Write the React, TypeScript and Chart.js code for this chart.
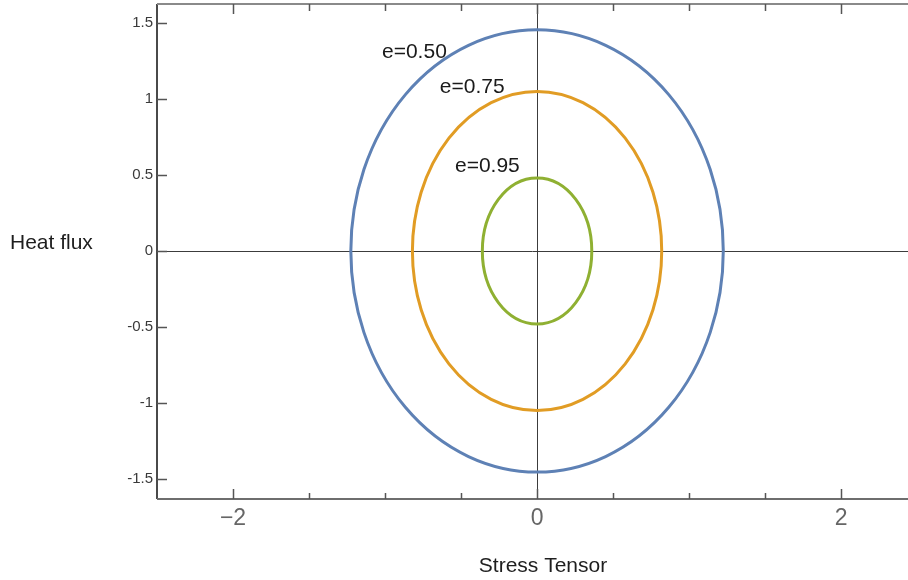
import { useEffect, useRef } from 'react';
import { Chart, registerables } from 'chart.js';

Chart.register(...registerables);

// Curves: semi-axes of each closed orbit (stress tensor, heat flux)
const seriesLabels = ['e=0.50', 'e=0.75', 'e=0.95'];
const seriesColors = ['#5E81B5', '#E19C24', '#8FB032'];
const semiAxisStress = [1.225, 0.82, 0.36];
const semiAxisHeat = [1.455, 1.05, 0.48];

// Where each curve's label sits (data coordinates, left/middle of the text)
const labelStress = [-1.02, -0.64, -0.54];
const labelHeat = [1.31, 1.08, 0.56];

// Axis ticks
const xMajorTicks = [-2, 0, 2];
const xMinorTicks = [-1.5, -1, -0.5, 0.5, 1, 1.5];
const yTicks = [-1.5, -1, -0.5, 0, 0.5, 1, 1.5];

const xTitle = 'Stress Tensor';
const yTitle = 'Heat flux';

const FONT = '"Liberation Sans", Arial, sans-serif';

const framePlugin = {
  id: 'frameAndAxes',
  beforeDatasetsDraw(chart: any) {
    const { ctx, chartArea: a, scales } = chart;
    const xs = scales.x;
    const ys = scales.y;
    ctx.save();

    // origin cross-hair
    const x0 = Math.round(xs.getPixelForValue(0)) + 0.5;
    const y0 = Math.round(ys.getPixelForValue(0)) + 0.5;
    ctx.lineWidth = 1;
    ctx.strokeStyle = '#3c3c3c';
    ctx.beginPath();
    ctx.moveTo(x0, a.top);
    ctx.lineTo(x0, a.bottom);
    ctx.moveTo(a.left, y0);
    ctx.lineTo(a.right, y0);
    ctx.stroke();

    // frame: left, top, bottom
    ctx.lineWidth = 2;
    ctx.strokeStyle = '#4a4a4a';
    ctx.beginPath();
    ctx.moveTo(a.left, a.top);
    ctx.lineTo(a.left, a.bottom);
    ctx.stroke();
    ctx.strokeStyle = '#8a8a8a';
    ctx.beginPath();
    ctx.moveTo(a.left, a.top);
    ctx.lineTo(a.right, a.top);
    ctx.stroke();
    ctx.strokeStyle = '#6e6e6e';
    ctx.beginPath();
    ctx.moveTo(a.left, a.bottom);
    ctx.lineTo(a.right, a.bottom);
    ctx.stroke();

    // inward tick marks
    ctx.lineWidth = 1.5;
    ctx.strokeStyle = '#555';
    ctx.beginPath();
    for (const v of xMajorTicks) {
      const px = Math.round(xs.getPixelForValue(v)) + 0.5;
      ctx.moveTo(px, a.bottom);
      ctx.lineTo(px, a.bottom - 10);
      ctx.moveTo(px, a.top);
      ctx.lineTo(px, a.top + 10);
    }
    for (const v of xMinorTicks) {
      const px = Math.round(xs.getPixelForValue(v)) + 0.5;
      ctx.moveTo(px, a.bottom);
      ctx.lineTo(px, a.bottom - 6);
      ctx.moveTo(px, a.top);
      ctx.lineTo(px, a.top + 7);
    }
    for (const v of yTicks) {
      const py = Math.round(ys.getPixelForValue(v)) + 0.5;
      ctx.moveTo(a.left, py);
      ctx.lineTo(a.left + 10, py);
    }
    ctx.stroke();

    // axis titles
    ctx.fillStyle = '#1e1e1e';
    ctx.font = `21px ${FONT}`;
    ctx.textBaseline = 'middle';
    ctx.textAlign = 'left';
    ctx.fillText(yTitle, 10, 243);
    ctx.textAlign = 'center';
    ctx.fillText(xTitle, 543, 566);
    ctx.restore();
  },
  afterDatasetsDraw(chart: any) {
    const { ctx, scales } = chart;
    ctx.save();
    chart.data.datasets.forEach((ds: any, i: number) => {
      const pts = chart.getDatasetMeta(i).data;
      const cx = (pts[0].x + pts[2].x) / 2;
      const cy = (pts[1].y + pts[3].y) / 2;
      const rx = (pts[0].x - pts[2].x) / 2;
      const ry = (pts[3].y - pts[1].y) / 2;
      ctx.lineWidth = 3;
      ctx.strokeStyle = ds.borderColor;
      ctx.beginPath();
      ctx.ellipse(cx, cy, rx, ry, 0, 0, Math.PI * 2);
      ctx.stroke();
    });
    ctx.fillStyle = '#1a1a1a';
    ctx.font = `21px ${FONT}`;
    ctx.textAlign = 'left';
    ctx.textBaseline = 'middle';
    seriesLabels.forEach((t, i) => {
      ctx.fillText(t, scales.x.getPixelForValue(labelStress[i]), scales.y.getPixelForValue(labelHeat[i]));
    });
    ctx.restore();
  },
};

export default function App() {
  const ref = useRef<HTMLCanvasElement | null>(null);

  useEffect(() => {
    if (!ref.current) return;
    const datasets = seriesLabels.map((label, i) => ({
      label,
      data: [
        { x: semiAxisStress[i], y: 0 },
        { x: 0, y: semiAxisHeat[i] },
        { x: -semiAxisStress[i], y: 0 },
        { x: 0, y: -semiAxisHeat[i] },
      ],
      borderColor: seriesColors[i],
      backgroundColor: seriesColors[i],
      pointRadius: 0,
      showLine: false,
    }));

    const chart = new Chart(ref.current, {
      type: 'scatter',
      data: { datasets },
      options: {
        animation: false,
        responsive: false,
        devicePixelRatio: 1,
        layout: { padding: { top: 4, right: 0, left: 0, bottom: 0 } },
        plugins: { legend: { display: false }, tooltip: { enabled: false } },
        scales: {
          x: {
            type: 'linear',
            min: -2.5,
            max: 2.44,
            grid: { display: false, drawTicks: false },
            border: { display: false },
            afterBuildTicks: (s: any) => {
              s.ticks = xMajorTicks.map((v) => ({ value: v }));
            },
            afterFit: (s: any) => {
              s.height = 81;
              s.paddingLeft = 0;
              s.paddingRight = 0;
            },
            ticks: {
              autoSkip: false,
              maxRotation: 0,
              padding: 6,
              color: '#666',
              font: { size: 23, family: FONT },
              callback: (v: any) => (v < 0 ? '\u2212' + Math.abs(v) : String(v)),
            },
          },
          y: {
            type: 'linear',
            min: -1.632,
            max: 1.625,
            grid: { display: false, drawTicks: false },
            border: { display: false },
            afterBuildTicks: (s: any) => {
              s.ticks = yTicks.map((v) => ({ value: v }));
            },
            afterFit: (s: any) => {
              s.width = 157;
              s.paddingTop = 0;
              s.paddingBottom = 0;
            },
            ticks: {
              autoSkip: false,
              padding: 4,
              color: '#3a3a3a',
              font: { size: 15, family: FONT },
              callback: (v: any) => String(v),
            },
          },
        },
      },
      plugins: [framePlugin],
    });
    return () => chart.destroy();
  }, []);

  return (
    <div style={{ position: 'fixed', left: 0, top: 0, width: 908, height: 580, background: '#fff' }}>
      <canvas ref={ref} width={908} height={580} />
    </div>
  );
}
